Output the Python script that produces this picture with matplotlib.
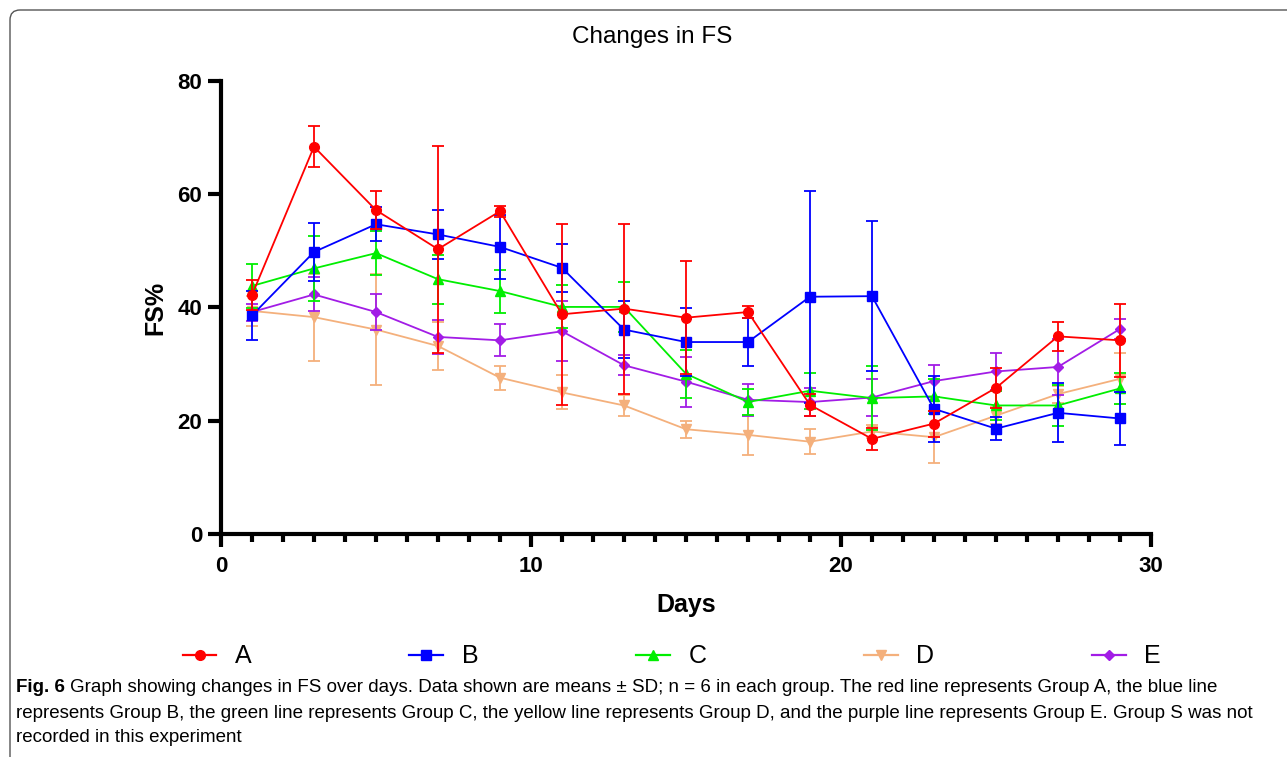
#!/usr/bin/env python3
# -*- coding: utf-8 -*-
import matplotlib
matplotlib.use('Agg')
import matplotlib.pyplot as plt
from matplotlib.patches import FancyBboxPatch
from matplotlib.lines import Line2D
from matplotlib.transforms import IdentityTransform
from matplotlib.ticker import MultipleLocator

days = [1, 3, 5, 7, 9, 11, 13, 15, 17, 19, 21, 23, 25, 27, 29]

# means and SD per group
a_mean = [42.2, 68.4, 57.2, 50.3, 57.0, 38.8, 39.8, 38.2, 39.2, 22.8, 16.8, 19.5, 25.8, 34.9, 34.2]
a_sd   = [2.6, 3.6, 3.4, 18.3, 1.0, 16.0, 15.0, 10.0, 1.0, 2.0, 2.0, 2.3, 3.5, 2.5, 6.4]
b_mean = [38.6, 49.8, 54.7, 52.9, 50.7, 47.0, 36.1, 33.9, 33.9, 41.9, 42.0, 22.1, 18.6, 21.4, 20.4]
b_sd   = [4.4, 5.1, 3.0, 4.3, 5.6, 4.3, 5.0, 6.0, 4.3, 18.7, 13.2, 5.8, 2.0, 5.2, 4.6]
c_mean = [43.8, 46.9, 49.6, 45.0, 42.9, 40.1, 40.1, 28.3, 23.3, 25.3, 24.0, 24.3, 22.7, 22.7, 25.7]
c_sd   = [3.9, 5.8, 3.9, 4.3, 3.8, 3.8, 4.4, 4.2, 2.3, 3.2, 5.7, 3.1, 2.6, 3.6, 2.8]
d_mean = [39.4, 38.3, 36.1, 33.2, 27.6, 25.0, 22.7, 18.5, 17.5, 16.3, 18.1, 17.1, 20.9, 24.7, 27.4]
d_sd   = [2.7, 7.7, 9.8, 4.3, 2.1, 3.0, 1.8, 1.5, 3.5, 2.2, 1.2, 4.6, 1.5, 1.5, 4.5]
e_mean = [39.2, 42.3, 39.2, 34.8, 34.2, 35.8, 29.8, 26.9, 23.7, 23.3, 24.1, 27.0, 28.7, 29.5, 36.2]
e_sd   = [1.5, 3.0, 3.2, 3.0, 2.8, 5.3, 1.8, 4.4, 2.8, 2.5, 3.2, 2.8, 3.3, 5.0, 1.7]

groups = ['A', 'B', 'C', 'D', 'E']
means = [a_mean, b_mean, c_mean, d_mean, e_mean]
sds = [a_sd, b_sd, c_sd, d_sd, e_sd]
colors = ['#FF0000', '#0000FF', '#00EE00', '#F4B07C', '#A21CE6']
markers = ['o', 's', '^', 'v', 'D']
msizes = [7, 7, 7, 7, 5]
zorders = [10, 9, 8, 6, 7]

plt.rcParams['font.family'] = ['Liberation Sans', 'DejaVu Sans']

fig = plt.figure(figsize=(12.87, 7.57), dpi=100)
ax = fig.add_axes([0.1717, 0.2946, 0.7226, 0.5984])

handles = []
for g, m, s, c, mk, ms, z in zip(groups, means, sds, colors, markers, msizes, zorders):
    ax.errorbar(days, m, yerr=s, color=c, marker=mk, markersize=ms, lw=1.3,
                elinewidth=1.3, capsize=4, capthick=1.3, zorder=z)
    handles.append(Line2D([], [], color=c, marker=mk, markersize=ms, lw=1.6, label=g))

ax.set_xlim(0, 30)
ax.set_ylim(0, 80)
ax.xaxis.set_major_locator(MultipleLocator(10))
ax.xaxis.set_minor_locator(MultipleLocator(1))
ax.yaxis.set_major_locator(MultipleLocator(20))
for sp in ['top', 'right']:
    ax.spines[sp].set_visible(False)
for sp in ['left', 'bottom']:
    ax.spines[sp].set_linewidth(3)
ax.tick_params(axis='both', which='major', length=9.5, width=3, labelsize=16, pad=4)
ax.tick_params(axis='x', which='minor', length=5.5, width=3)
ax.tick_params(axis='x', which='major', pad=6)
for lab in ax.get_xticklabels() + ax.get_yticklabels():
    lab.set_fontweight('bold')

ax.set_xlabel('Days', fontsize=18, fontweight='bold', labelpad=12)
ax.set_ylabel('FS%', fontsize=18, fontweight='bold', labelpad=7)
fig.text(0.5066, 0.951, 'Changes in FS', ha='center', va='center', fontsize=17.5)

fig.legend(handles=handles, loc='center', bbox_to_anchor=(0.522, 0.133), ncol=5, frameon=False,
           fontsize=18, handlelength=1.35, handletextpad=0.75, columnspacing=6.3)

# caption
cap_size = 13.5
fig.text(16 / 1287, 1 - 688 / 757, 'Fig. 6', fontweight='bold',
         fontsize=cap_size, va='center', ha='left')
fig.text(70 / 1287, 1 - 688 / 757,
         'Graph showing changes in FS over days. Data shown are means \u00b1 SD; n = 6 in each group. '
         'The red line represents Group A, the blue line',
         fontsize=cap_size, va='center', ha='left')
fig.text(16 / 1287, 1 - 713 / 757,
         'represents Group B, the green line represents Group C, the yellow line represents Group D, '
         'and the purple line represents Group E. Group S was not',
         fontsize=cap_size, va='center', ha='left')
fig.text(16 / 1287, 1 - 738 / 757, 'recorded in this experiment',
         fontsize=cap_size, va='center', ha='left')

# rounded frame around the panel
box = FancyBboxPatch((10, -20), 1300, 757 - 10 + 20, boxstyle='round,pad=0,rounding_size=10',
                     transform=IdentityTransform(), fill=False, edgecolor='#555555', lw=1)
fig.patches.append(box)

fig.savefig('out.png', dpi=100)
